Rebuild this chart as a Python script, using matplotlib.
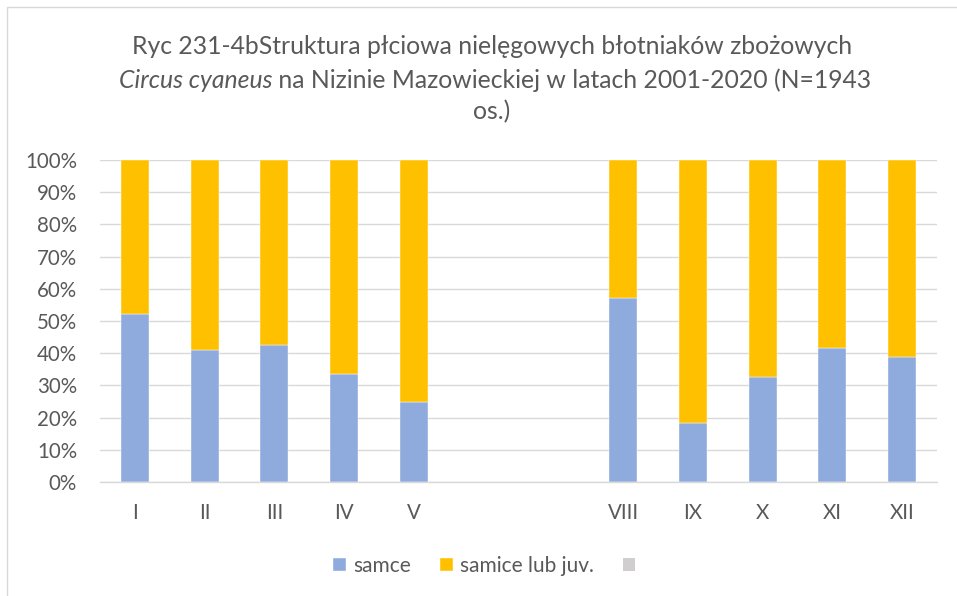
import matplotlib
matplotlib.use('Agg')
import matplotlib.pyplot as plt
from matplotlib.patches import Rectangle
import numpy as np

plt.rcParams['font.family'] = ['Lato', 'DejaVu Sans']

# VI i VII bez danych i bez etykiet
months = ['I', 'II', 'III', 'IV', 'V', '', '', 'VIII', 'IX', 'X', 'XI', 'XII']
samce = [52.3, 41.0, 42.7, 33.4, 25.0, np.nan, np.nan, 57.2, 18.2, 32.7, 41.7, 38.7]
samice = [47.7, 59.0, 57.3, 66.6, 75.0, np.nan, np.nan, 42.8, 81.8, 67.3, 58.3, 61.3]
trzecia = [0, 0, 0, 0, 0, np.nan, np.nan, 0, 0, 0, 0, 0]
labels = ['samce', 'samice lub juv.', '']

c_blue = '#8FAADC'
c_gold = '#FFC000'
c_gray = '#D0CECE'
txt = '#595959'

fig = plt.figure(figsize=(9.57, 5.96), dpi=100)
ax = fig.add_axes([100/957, 1-482/596, 837/957, 322/596])

x = np.arange(len(months))
s = np.nan_to_num(samce)
f = np.nan_to_num(samice)
b1 = ax.bar(x, s, width=0.4, color=c_blue, edgecolor='white', linewidth=0.3)
b2 = ax.bar(x, f, bottom=s, width=0.4, color=c_gold, edgecolor='white', linewidth=0.3)
b3 = ax.bar(x, np.nan_to_num(trzecia), bottom=s+f, width=0.4, color=c_gray)

ax.set_xlim(-0.5, 11.5)
ax.set_ylim(0, 100)
ax.set_yticks(range(0, 101, 10))
ax.set_yticklabels([f'{v}%' for v in range(0, 101, 10)])
ax.set_xticks(x)
ax.set_xticklabels(months)
ax.grid(axis='y', color='#D9D9D9', linewidth=1)
ax.set_axisbelow(True)
for sp in ['top', 'right', 'left']:
    ax.spines[sp].set_visible(False)
ax.spines['bottom'].set_color('#D9D9D9')
ax.spines['bottom'].set_linewidth(1)
ax.tick_params(length=0, labelsize=14.8, labelcolor=txt)
ax.tick_params(axis='y', pad=16.5)
ax.tick_params(axis='x', pad=15)

# tytul, druga linia czesciowo kursywa
fs = 17.8
fig.text(492/957, 1-47/596, 'Ryc 231-4bStruktura płciowa nielęgowych błotniaków zbożowych',
         ha='center', va='center', fontsize=fs, color=txt)
fig.text(492/957, 1-112/596, 'os.)', ha='center', va='center', fontsize=fs, color=txt)
r = fig.canvas.get_renderer()
t1 = fig.text(0, 1-80/596, 'Circus cyaneus', style='italic', ha='left', va='center',
              fontsize=fs, color=txt)
t2 = fig.text(0, 1-80/596, ' na Nizinie Mazowieckiej w latach 2001-2020 (N=1943',
              ha='left', va='center', fontsize=fs, color=txt)
w1 = t1.get_window_extent(r).width
w2 = t2.get_window_extent(r).width
x0 = 495 - (w1 + w2) / 2
t1.set_x(x0/957)
t2.set_x((x0 + w1)/957)

fig.legend([b1, b2, b3], labels, loc='center', bbox_to_anchor=(488/957, 1-566/596),
           ncol=3, frameon=False, fontsize=15, labelcolor=txt,
           handlelength=0.6, handleheight=0.6, handletextpad=0.35, columnspacing=1.4)

fig.patches.append(Rectangle((7/957, -0.01), 1.0, 1-7/596+0.01, transform=fig.transFigure,
                             fill=False, edgecolor='#D9D9D9', linewidth=1))

fig.savefig('out.png', dpi=100)
